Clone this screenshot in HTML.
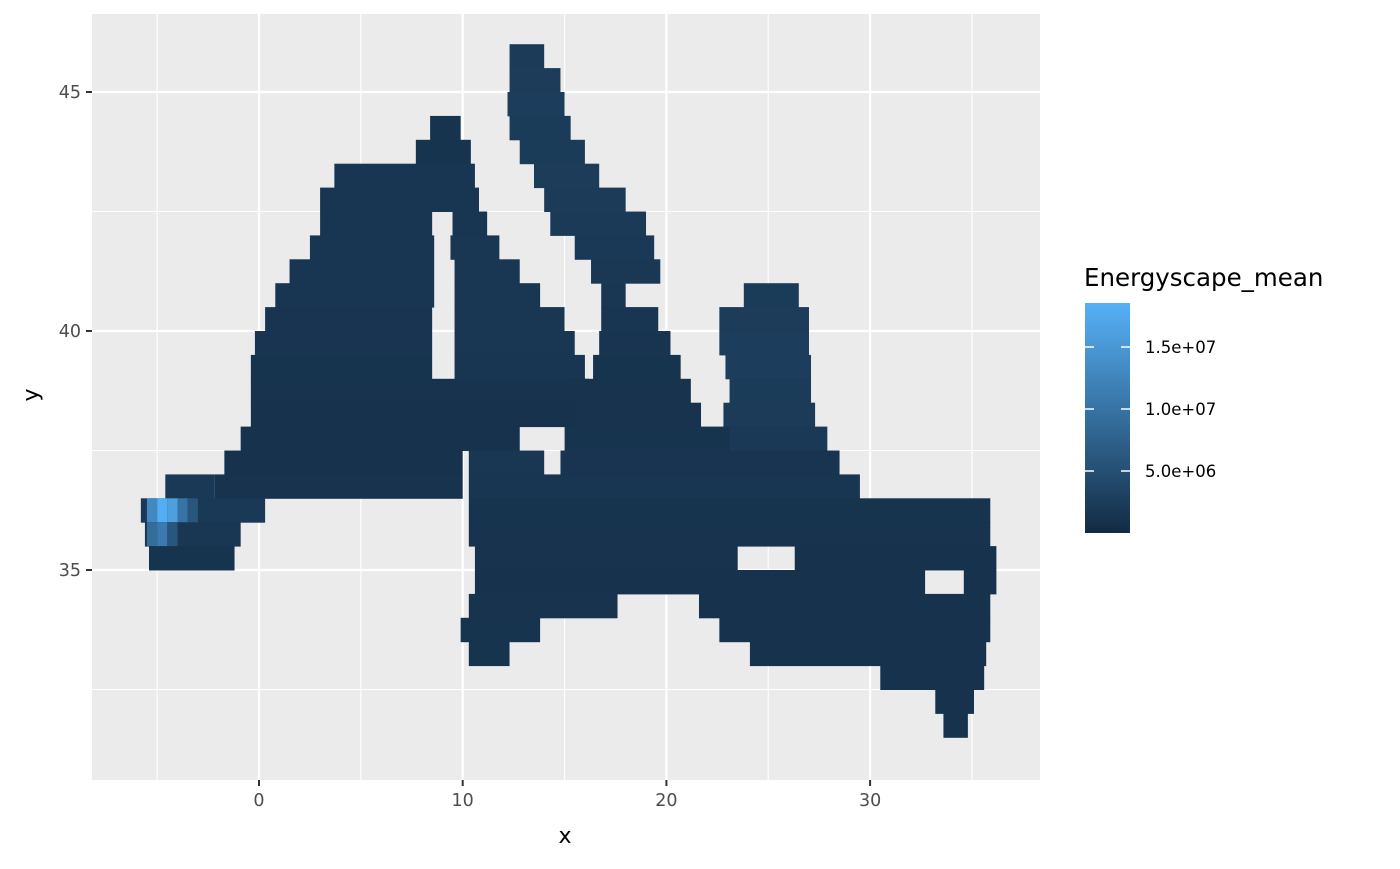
<!DOCTYPE html>
<html><head><meta charset="utf-8"><style>
body{margin:0;background:#fff;font-family:"DejaVu Sans","Liberation Sans",sans-serif}
</style></head><body>
<svg id="c" width="1400" height="865" xmlns="http://www.w3.org/2000/svg" font-family="DejaVu Sans, Liberation Sans, sans-serif">
<defs><linearGradient id="g" x1="0" y1="1" x2="0" y2="0"><stop offset="0" stop-color="#132B43"/><stop offset="1" stop-color="#56B1F7"/></linearGradient></defs>
<rect x="92" y="14" width="948" height="766" fill="#EBEBEB"/>
<g id="grid"></g><g id="cells"></g><g id="axes"></g>
<text x="565" y="843" font-size="22" text-anchor="middle" fill="#000">x</text>
<text transform="translate(38,395) rotate(-90)" font-size="22" text-anchor="middle" fill="#000">y</text>
<text x="1084" y="286" font-size="24.5" fill="#000">Energyscape_mean</text>
<rect x="1085" y="303" width="45" height="230" fill="url(#g)"/>
<g id="legend"></g>
</svg>
<script>
const xTicks=[0,10,20,30];
const xMinor=[-5,5,15,25,35];
const yTicks=[35,40,45];
const yMinor=[32.5,37.5,42.5];
const legendTicks=[15000000,10000000,5000000];
const legendLabels=["1.5e+07","1.0e+07","5.0e+06"];
const rowLat=[45.75,45.25,44.75,44.25,43.75,43.25,42.75,42.25,41.75,41.25,40.75,40.25,39.75,39.25,38.75,38.25,37.75,37.25,36.75,36.25,35.75,35.25,34.75,34.25,33.75,33.25,32.75,32.25,31.75];
const rowSpans=[
[[12.3,14.0,2.2e6]],
[[12.3,14.8,2.4e6]],
[[12.2,15.0,2.5e6]],
[[8.4,9.9,1.2e6],[12.3,15.3,2.3e6]],
[[7.7,10.4,1.2e6],[12.8,16.0,2.3e6]],
[[3.7,10.6,1.4e6],[13.5,16.7,2.4e6]],
[[3.0,10.8,1.4e6],[14.0,18.0,2.2e6]],
[[3.0,8.5,1.5e6],[9.5,11.2,1.5e6],[14.3,19.0,2.1e6]],
[[2.5,8.6,1.5e6],[9.4,11.8,1.6e6],[15.5,19.4,2.0e6]],
[[1.5,8.6,1.4e6],[9.6,12.8,1.7e6],[16.3,19.7,1.8e6]],
[[0.8,8.6,1.4e6],[9.6,13.8,1.7e6],[16.8,18.0,1.6e6],[23.8,26.5,2.3e6]],
[[0.3,8.5,1.3e6],[9.6,15.0,1.6e6],[16.8,19.6,1.4e6],[22.6,27.0,2.4e6]],
[[-0.2,8.5,1.3e6],[9.6,15.5,1.6e6],[16.7,20.2,1.3e6],[22.6,27.0,2.5e6]],
[[-0.4,8.5,1.2e6],[9.6,16.0,1.5e6],[16.4,20.7,1.2e6],[22.9,27.1,2.5e6]],
[[-0.4,16.2,1.1e6],[15.3,21.2,1.1e6],[23.1,27.1,2.3e6]],
[[-0.4,16.2,1.0e6],[15.5,21.7,1.1e6],[22.8,27.3,2.2e6]],
[[-0.9,12.8,1.0e6],[15.0,24.0,1.2e6],[23.1,27.9,2.0e6]],
[[-1.7,10.0,1.0e6],[10.3,14.0,1.6e6],[14.8,28.5,1.3e6]],
[[-2.2,10.0,1.1e6],[-4.6,-2.2,2.0e6],[10.3,29.5,1.4e6]],
[[-5.8,0.3,2.0e6],[10.3,35.9,1.2e6]],
[[-5.6,-0.9,1.6e6],[10.3,35.9,1.1e6]],
[[-5.4,-1.2,1.2e6],[10.6,23.5,1.1e6],[26.3,36.2,1.0e6]],
[[10.6,32.7,1.0e6],[34.6,36.2,1.0e6]],
[[10.3,17.6,1.1e6],[21.6,35.9,1.0e6]],
[[9.9,13.8,1.2e6],[22.6,35.9,1.0e6]],
[[10.3,12.3,1.2e6],[24.1,35.7,1.0e6]],
[[30.5,35.6,1.0e6]],
[[33.2,35.1,1.0e6]],
[[33.6,34.8,1.0e6]]];
const hotLon=[-5.25,-4.75,-4.25,-3.75,-3.25,-5.25,-4.75,-4.25];
const hotLat=[36.25,36.25,36.25,36.25,36.25,35.75,35.75,35.75];
const hotVal=[1.3e7,1.8e7,1.6e7,1.0e7,6e6,9e6,1.1e7,6e6];

const NS="http://www.w3.org/2000/svg";
const X=v=>259+(v)*20.37, Y=v=>92+(45-v)*47.8;
const C=v=>{const t=Math.max(0,Math.min(1,v/1.855e7));const a=[0x13,0x2B,0x43],b=[0x56,0xB1,0xF7];return `rgb(${a.map((c,i)=>Math.round(c+(b[i]-c)*t)).join(',')})`;};
function mk(p,tag,at){const e=document.createElementNS(NS,tag);for(const k in at)e.setAttribute(k,at[k]);p.appendChild(e);return e;}
const grid=document.getElementById('grid'),cells=document.getElementById('cells'),axes=document.getElementById('axes'),leg=document.getElementById('legend');
xMinor.forEach(v=>{const l=mk(grid,'line',{x1:X(v),x2:X(v),y1:14,y2:780,stroke:'#fff','stroke-width':1.1});

});
yMinor.forEach(v=>{const l=mk(grid,'line',{x1:92,x2:1040,y1:Y(v),y2:Y(v),stroke:'#fff','stroke-width':1.1});

});
xTicks.forEach(v=>{const l=mk(grid,'line',{x1:X(v),x2:X(v),y1:14,y2:780,stroke:'#fff','stroke-width':2.2});


const t=mk(axes,'line',{x1:X(v),x2:X(v),y1:780,y2:786,stroke:'#333','stroke-width':2});


const s=mk(axes,'text',{x:X(v),y:806,'font-size':17.5,fill:'#4D4D4D','text-anchor':'middle'});s.textContent=v;

});
yTicks.forEach(v=>{const l=mk(grid,'line',{x1:92,x2:1040,y1:Y(v),y2:Y(v),stroke:'#fff','stroke-width':2.2});


const t=mk(axes,'line',{x1:86,x2:92,y1:Y(v),y2:Y(v),stroke:'#333','stroke-width':2});


const s=mk(axes,'text',{x:81,y:Y(v)+6,'font-size':17.5,fill:'#4D4D4D','text-anchor':'end'});s.textContent=v;

});
rowLat.forEach((lat,i)=>{rowSpans[i].forEach(sp=>{
const r=mk(cells,'rect',{x:X(sp[0]),y:Y(lat+0.25),width:X(sp[1])-X(sp[0]),height:47.8*0.5+0.5,fill:C(sp[2])});

});});
hotLon.forEach((lo,i)=>{const r=mk(cells,'rect',{x:X(lo-0.25),y:Y(hotLat[i]+0.25),width:20.37*0.5,height:47.8*0.5,fill:C(hotVal[i])});

});
legendTicks.forEach((v,i)=>{const y=533-(v/1.855e7)*230;
[1085,1121].forEach(x=>{const l=mk(leg,'line',{x1:x,x2:x+9,y1:y,y2:y,stroke:'#fff','stroke-width':1.5});

});
const s=mk(leg,'text',{x:1145,y:y+6,'font-size':16.5,fill:'#000'});s.textContent=legendLabels[i];

});
</script>
</body></html>
